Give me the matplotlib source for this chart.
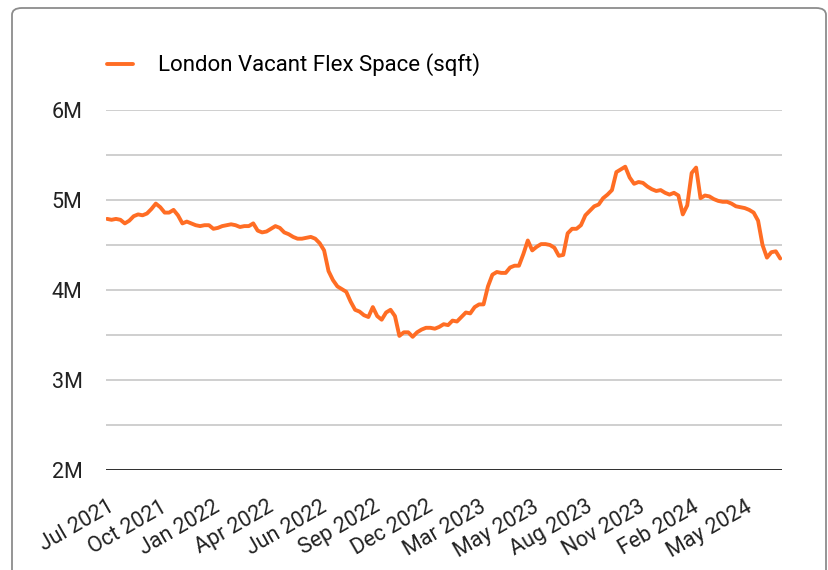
import matplotlib
matplotlib.use("Agg")
import matplotlib.pyplot as plt
from matplotlib.patches import FancyBboxPatch
import numpy as np

plt.rcParams['font.family'] = ['Roboto', 'DejaVu Sans']

# weekly values in millions of sqft
vacant_space = [
    4.79, 4.78, 4.79, 4.78, 4.74, 4.77, 4.82, 4.84, 4.83, 4.85,
    4.90, 4.96, 4.92, 4.86, 4.86, 4.89, 4.83, 4.74, 4.76, 4.74,
    4.72, 4.71, 4.72, 4.72, 4.68, 4.69, 4.71, 4.72, 4.73, 4.72,
    4.70, 4.71, 4.71, 4.74, 4.66, 4.64, 4.65, 4.68, 4.71, 4.69,
    4.64, 4.62, 4.59, 4.57, 4.57, 4.58, 4.59, 4.57, 4.52, 4.44,
    4.21, 4.11, 4.04, 4.01, 3.98, 3.87, 3.78, 3.76, 3.72, 3.70,
    3.81, 3.71, 3.67, 3.75, 3.78, 3.71, 3.49, 3.53, 3.53, 3.48,
    3.53, 3.56, 3.58, 3.58, 3.57, 3.59, 3.62, 3.61, 3.66, 3.65,
    3.70, 3.75, 3.74, 3.81, 3.84, 3.84, 4.04, 4.17, 4.20, 4.19,
    4.19, 4.25, 4.27, 4.27, 4.40, 4.55, 4.44, 4.48, 4.51, 4.51,
    4.50, 4.47, 4.38, 4.39, 4.63, 4.68, 4.68, 4.72, 4.83, 4.88,
    4.93, 4.95, 5.02, 5.06, 5.11, 5.31, 5.34, 5.37, 5.25, 5.18,
    5.20, 5.19, 5.15, 5.12, 5.10, 5.11, 5.08, 5.06, 5.08, 5.05,
    4.84, 4.94, 5.30, 5.36, 5.02, 5.05, 5.04, 5.01, 4.99, 4.98,
    4.98, 4.96, 4.93, 4.92, 4.91, 4.89, 4.86, 4.77, 4.50, 4.36,
    4.42, 4.43, 4.35,
]
tick_labels = ["Jul 2021", "Oct 2021", "Jan 2022", "Apr 2022", "Jun 2022",
               "Sep 2022", "Dec 2022", "Mar 2023", "May 2023", "Aug 2023",
               "Nov 2023", "Feb 2024", "May 2024"]
label_step = 12  # one label every 12 weeks
y_ticks = [2, 3, 4, 5, 6]
y_tick_labels = ["2M", "3M", "4M", "5M", "6M"]
series_name = "London Vacant Flex Space (sqft)"

fig = plt.figure(figsize=(8.29, 5.70), dpi=100)
ax = fig.add_axes([106 / 829, 1 - 470 / 570, 676 / 829, 360 / 570])

weeks = np.arange(len(vacant_space))
ax.plot(weeks, vacant_space, color="#FF6D24", linewidth=2.8,
        solid_joinstyle="round", solid_capstyle="round", label=series_name, zorder=3)

ax.set_ylim(2, 6)
ax.set_xlim(-0.25, len(vacant_space) - 0.6)
ax.set_yticks(y_ticks, y_tick_labels)
ax.set_yticks(np.arange(2.5, 6, 1), minor=True)
ax.set_xticks(weeks[::label_step][:len(tick_labels)], tick_labels)

ax.grid(True, axis="y", which="both", color="#CCCCCC", linewidth=1.3)
ax.axhline(2, color="black", linewidth=1.8, zorder=4)
for side in ["top", "right", "left", "bottom"]:
    ax.spines[side].set_visible(False)

ax.tick_params(axis="y", which="both", length=0, pad=17, labelsize=15.5, labelcolor="#222222")
ax.tick_params(axis="x", length=0, pad=19, labelsize=15.5, labelcolor="#222222")
for lbl in ax.get_xticklabels():
    lbl.set_rotation(30)
    lbl.set_ha("right")
    lbl.set_va("top")
    lbl.set_rotation_mode("anchor")

ax.legend(loc="center left", bbox_to_anchor=(107 / 829, 1 - 65 / 570),
          bbox_transform=fig.transFigure, frameon=False, fontsize=16,
          handlelength=1.17, handletextpad=1.12, borderpad=0, borderaxespad=0)

# card border
card = FancyBboxPatch((12 / 829, -0.05), 814 / 829, 1 - 8 / 570 + 0.05,
                      boxstyle="round,pad=0,rounding_size=0.012",
                      transform=fig.transFigure, fill=False,
                      edgecolor="#8C8C8C", linewidth=1.3)
fig.patches.append(card)

fig.savefig("out.png", dpi=100)
